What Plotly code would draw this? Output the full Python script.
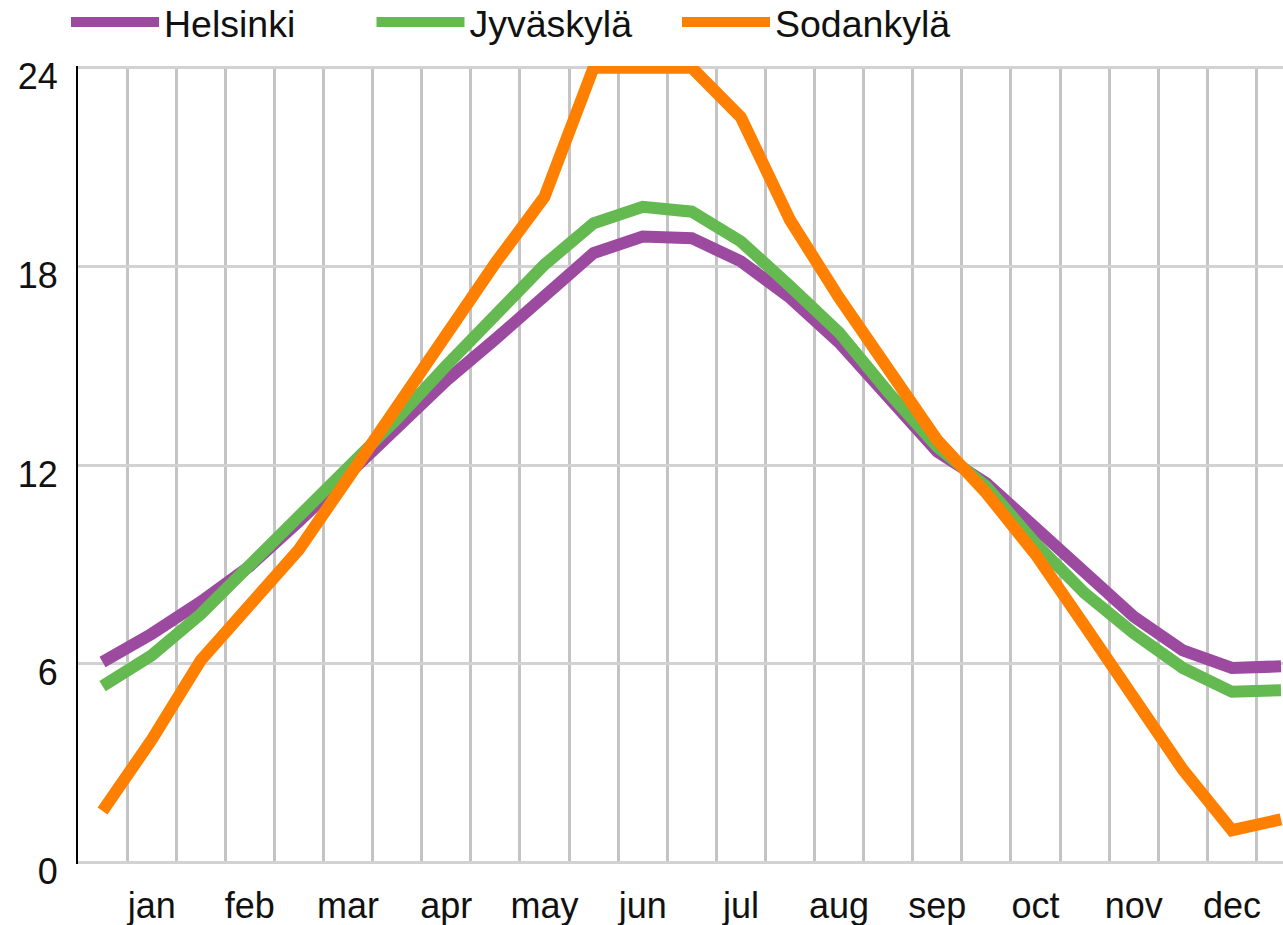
import plotly.graph_objects as go

# half-month sample points (index 0 .. 24), month labels on the odd points
periods = list(range(25))
month_pos = [1, 3, 5, 7, 9, 11, 13, 15, 17, 19, 21, 23]
month_labels = ["jan", "feb", "mar", "apr", "may", "jun",
                "jul", "aug", "sep", "oct", "nov", "dec"]

helsinki = [6.05, 6.9, 7.87, 8.95, 10.3, 11.75, 13.15, 14.55, 15.8, 17.1,
            18.4, 18.9, 18.85, 18.15, 17.05, 15.7, 14.07, 12.4, 11.45, 10.13,
            8.73, 7.42, 6.4, 5.87, 5.92]
jyvaskyla = [5.32, 6.25, 7.5, 8.95, 10.45, 11.85, 13.4, 15.0, 16.55, 18.05,
             19.3, 19.8, 19.65, 18.75, 17.4, 16.0, 14.2, 12.55, 11.35, 9.63,
             8.13, 6.92, 5.87, 5.15, 5.2]
sodankyla = [1.55, 3.7, 6.1, 7.8, 9.45, 11.6, 13.8, 15.9, 18.1, 20.1,
             24.0, 24.0, 24.0, 22.5, 19.4, 17.05, 14.9, 12.75, 11.15, 9.3,
             7.15, 4.9, 2.8, 0.97, 1.3]

y_ticks = [0, 6, 12, 18, 24]

series = [
    ("Helsinki", helsinki, "#9b4aa0"),
    ("Jyväskylä", jyvaskyla, "#64b950"),
    ("Sodankylä", sodankyla, "#ff8000"),
]

FONT = "Liberation Sans, Arial, sans-serif"

fig = go.Figure()
for name, vals, col in series:
    fig.add_trace(go.Scatter(
        x=periods, y=vals, name=name, mode="lines",
        line=dict(color=col, width=12),
        cliponaxis=False,
    ))

fig.update_layout(
    width=1283, height=925,
    margin=dict(l=78, r=0, t=66, b=61, pad=0, autoexpand=False),
    paper_bgcolor="white", plot_bgcolor="white",
    font=dict(family=FONT, size=36, color="#111111"),
    showlegend=True,
    legend=dict(
        orientation="h",
        xref="container", yref="container",
        x=66 / 1283, xanchor="left",
        y=1 - 22 / 925, yanchor="middle",
        itemwidth=88,
        entrywidth=202.5, entrywidthmode="pixels",
        font=dict(family=FONT, size=37.5, color="#111111"),
        bgcolor="rgba(0,0,0,0)",
        itemclick=False,
    ),
)

fig.update_xaxes(
    range=[-0.5, 24.04],
    tickmode="array", tickvals=month_pos, ticktext=month_labels,
    showgrid=False, zeroline=False, showline=False, ticks="",
    ticklabelstandoff=17,
    minor=dict(tick0=0.5, dtick=1, showgrid=True,
               gridcolor="#c4c4c4", gridwidth=2.5),
)

fig.update_yaxes(
    range=[-0.05, 24.05],
    tickmode="array", tickvals=y_ticks,
    showgrid=True, gridcolor="#d2d2d2", gridwidth=2.5,
    zeroline=False,
    showline=True, linecolor="#000000", linewidth=2,
    ticks="", ticklabelstandoff=11, ticklabelshift=9,
)

fig.write_html(
    "out.html",
    config={"displayModeBar": False},
    post_script="document.body.style.margin='0';document.body.style.overflow='hidden';",
)
